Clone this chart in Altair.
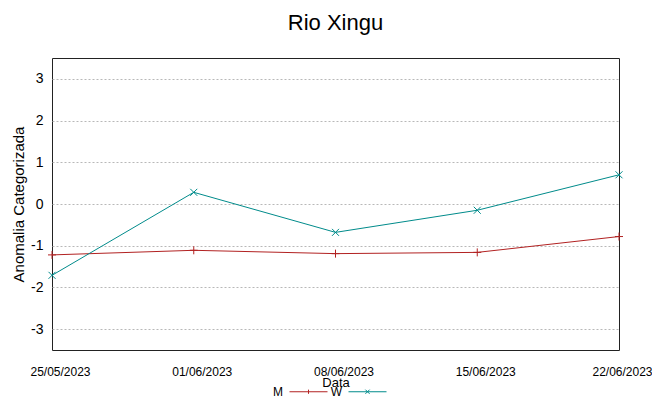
import altair as alt
import pandas as pd

dates = ["25/05/2023", "01/06/2023", "08/06/2023", "15/06/2023", "22/06/2023"]
m_vals = [-1.22, -1.11, -1.19, -1.16, -0.78]
w_vals = [-1.71, 0.28, -0.68, -0.15, 0.70]
series = ["M", "W"]
colors = ["#b22222", "#008b8b"]
y_ticks = [-3, -2, -1, 0, 1, 2, 3]

df = pd.DataFrame(
    [{"Data": d, "s": "M", "v": v} for d, v in zip(dates, m_vals)]
    + [{"Data": d, "s": "W", "v": v} for d, v in zip(dates, w_vals)]
)

PLUS = "M-1,0L1,0M0,-1L0,1"
CROSS = "M-1,-1L1,1M-1,1L1,-1"
LEG_M = "M-1,0L1,0M0,-0.11L0,0.11"
LEG_W = "M-1,0L1,0M-0.11,-0.11L0.11,0.11M-0.11,0.11L0.11,-0.11"

x_enc = alt.X(
    "Data:O", sort=dates,
    scale=alt.Scale(type="point", padding=0),
    axis=alt.Axis(title="Data", labelAngle=0, labelFontSize=12, labelPadding=16,
                  labelOffset={"condition": {"test": "datum.value == '22/06/2023'", "value": 3},
                               "value": 8},
                  titleFontSize=13, titleY=32, titleBaseline="middle", ticks=False,
                  domain=False, grid=False, labelOverlap=False,
                  titleFontWeight="normal", labelColor="#000", titleColor="#000"),
)
y_enc = alt.Y(
    "v:Q",
    scale=alt.Scale(domain=[-3.5, 3.5], nice=False, zero=False),
    axis=alt.Axis(title="Anomalia Categorizada", values=y_ticks, labelFontSize=14,
                  labelExpr="'' + datum.value",
                  titleFontSize=15, labelPadding=9, titlePadding=4, ticks=False,
                  domain=False, grid=True, gridDash=[2, 2], gridColor="#b8b8b8",
                  titleFontWeight="normal", labelColor="#000", titleColor="#000"),
)


def make_legend():
    return alt.Legend(title=None, orient="none", legendX=237, legendY=314,
                      direction="horizontal", labelAlign="right",
                      labelOffset={"expr": "-45"}, labelFontSize=12, symbolSize=1444,
                      symbolStrokeWidth=1, columnPadding=0, padding=0,
                      labelColor="#000")


color_enc = alt.Color("s:N", scale=alt.Scale(domain=series, range=colors),
                      legend=make_legend())

lines = alt.Chart(df).mark_line(strokeWidth=1).encode(x=x_enc, y=y_enc, color=color_enc)
pts_m = alt.Chart(df).transform_filter(alt.datum.s == "M").mark_point(
    shape=PLUS, size=64, filled=False, strokeWidth=1, opacity=1).encode(
    x=x_enc, y=y_enc, color=color_enc)
pts_w = alt.Chart(df).transform_filter(alt.datum.s == "W").mark_point(
    shape=CROSS, size=49, filled=False, strokeWidth=1, opacity=1).encode(
    x=x_enc, y=y_enc, color=color_enc)
leg = alt.Chart(df).transform_filter("false").mark_point(
    filled=False, size=1444, strokeWidth=1, opacity=1).encode(
    x=x_enc, y=y_enc, color=color_enc,
    shape=alt.Shape("s:N", scale=alt.Scale(domain=series, range=[LEG_M, LEG_W]),
                    legend=make_legend()))

chart = alt.layer(lines, pts_m, pts_w, leg).properties(
    width=567, height=292,
    title=alt.TitleParams("Rio Xingu", fontSize=22, fontWeight="normal", offset=23,
                          anchor="middle", color="#000"),
    autosize=alt.AutoSizeParams(type="none"),
    padding={"left": 44, "top": 50, "right": 33, "bottom": 47},
).configure(font="Liberation Sans").configure_view(stroke="#222", strokeWidth=1)

chart.save("out.html", embed_options={"renderer": "svg", "actions": False})
